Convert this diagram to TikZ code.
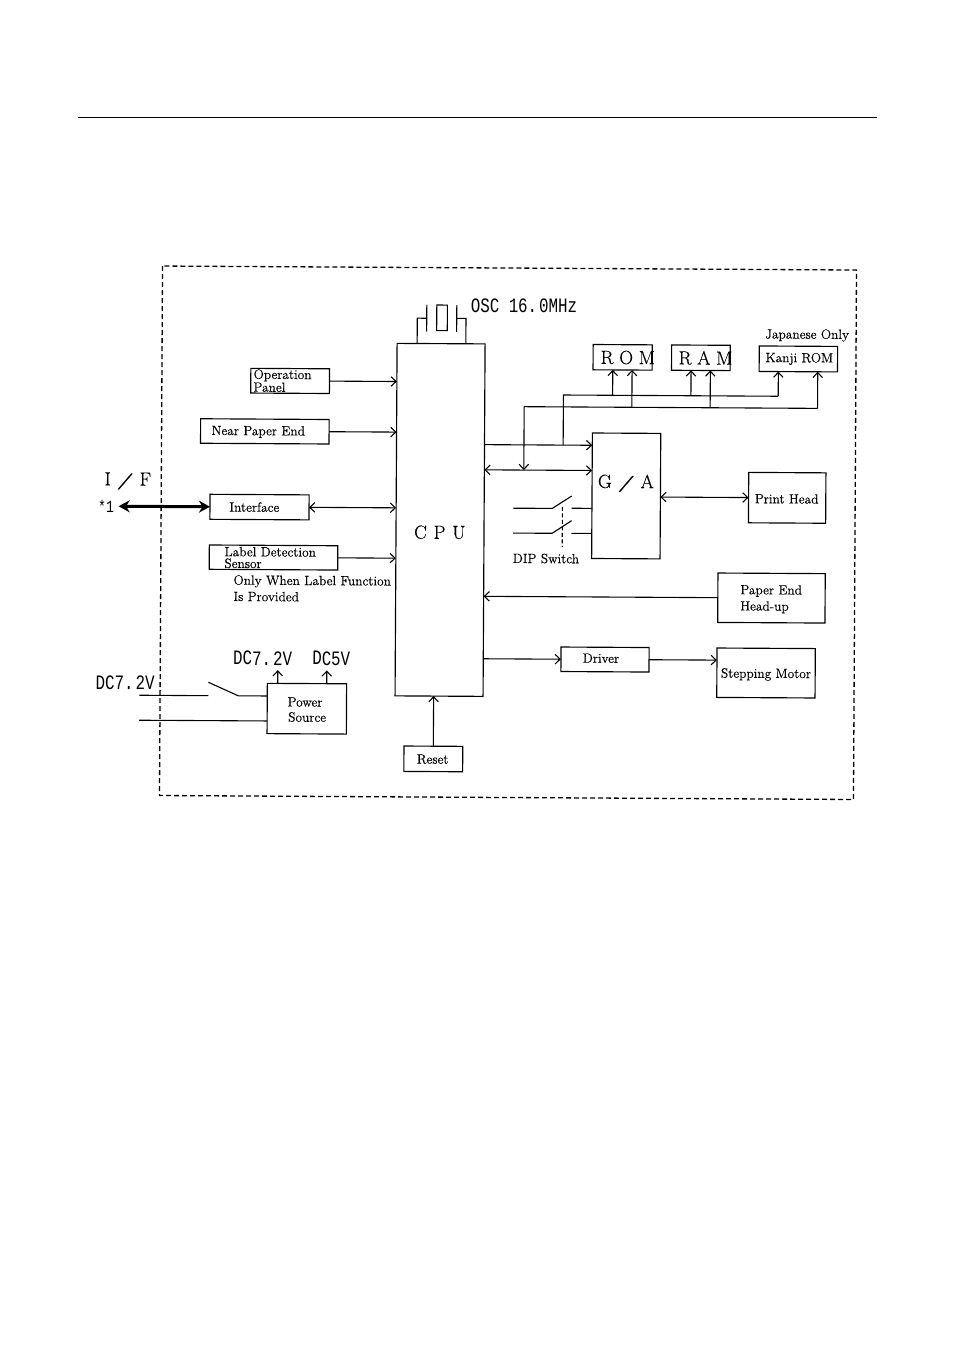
\documentclass[tikz,border=0pt]{standalone}
\usepackage{fontspec}
\usepackage{graphicx}
\usetikzlibrary{arrows.meta}
\newfontfamily\condmono[FakeStretch=0.77]{Liberation Mono}
\newfontfamily\darkroman[FakeBold=0.3]{Latin Modern Roman}
\newcommand{\wslash}{\scalebox{2.1}[0.85]{/}}
\newcommand{\bx}[5]{\node[boxnode,minimum width={(#4-#2)*1pt},minimum height={(#5-#3)*1pt}] (#1) at ({(#2+#4)/2},{(#3+#5)/2}) {};}
\tikzset{
  boxnode/.style={draw,line width=1.15pt,inner sep=0pt,outer sep=0pt},
  txt/.style={inner sep=0pt,font=\darkroman\fontsize{13.4}{11.7}\selectfont,align=center},
  txtl/.style={txt,align=left,anchor=west},
  big/.style={inner sep=0pt,font=\darkroman\fontsize{19}{20}\selectfont},
  gothic/.style={inner sep=0pt,font=\condmono\fontsize{20.5}{20}\selectfont},
  wire/.style={line width=1.1pt},
  arr/.style={wire,-{Straight Barb[length=5pt,width=9.5pt,line width=1.1pt]}},
  dbl/.style={wire,{Straight Barb[length=5pt,width=9.5pt,line width=1.1pt]}-{Straight Barb[length=5pt,width=9.5pt,line width=1.1pt]}},
  frame/.style={line width=1.3pt,dash pattern=on 5pt off 3pt}
}
\begin{document}
\begin{tikzpicture}[x=1pt,y=-1pt]
\useasboundingbox (0,0) rectangle (954,1351);
\draw[line width=1.2pt] (78,117.5) -- (877,117.5);
\begin{scope}[rotate around={-0.33:(505,532)},transform shape]
\draw[frame] (161,268) rectangle (855,797.5);
% boxes
\bx{cpu}{396}{344}{484}{696.5}
\bx{rom}{592.1}{344}{651.2}{369.3}
\bx{ram}{670.6}{344}{729.2}{369.3}
\bx{kanji}{758.2}{344.5}{836.6}{370}
\bx{ga}{591.8}{432.5}{660.2}{558}
\bx{ph}{748.4}{471}{825.6}{521.4}
\bx{pe}{718.2}{571.8}{825.5}{621.2}
\bx{sm}{717.7}{646.8}{816}{696.2}
\bx{dr}{561.7}{646.7}{649.8}{671.2}
\bx{rs}{405.2}{746.6}{464}{772}
\bx{pw}{268.2}{684.7}{347.5}{735}
\bx{op}{249.9}{369.8}{328.6}{394.5}
\bx{ne}{200}{420.5}{328.5}{445}
\bx{itf}{209.8}{496}{308.9}{521}
\bx{ld}{209.4}{546.7}{337.9}{571}
% labels
\node[gothic] (tosc) at (522.7,305.6) {OSC 16.\kern2pt 0MHz};
\node[big] (trom) at (626.8,356.8) {R O M};
\node[big] (tram) at (704.5,356.8) {R A M};
\node[txt] (tkanji) at (798.3,357.2) {Kanji ROM};
\node[txt] (tjp) at (806,333.6) {Japanese Only};
\node[big] (tcpu) at (439.8,532.7) {C\kern1pt\ P\kern1pt\ U};
\node[big] (tga) at (625.6,482.6) {G\;\wslash\;A};
\node[txt] (tph) at (786.5,497.2) {Print Head};
\node[txt] (tdip) at (546.1,558.3) {DIP Switch};
\node[txtl] (tpe) at (740.5,597.6) {Paper End\\[3.3pt]Head-up};
\node[txt] (tdr) at (601.7,657.7) {Driver};
\node[txt] (tsm) at (766.8,673) {Stepping Motor};
\node[txt] (trs) at (434,759.6) {Reset};
\node[txt] (tpw) at (306,710.8) {Power\\[3.5pt]\,\,Source};
\node[gothic] (tdc1) at (263.4,659.7) {DC7.\kern2pt 2V};
\node[gothic] (tdc2) at (332,659.3) {DC5V};
\node[gothic] (tdc3) at (126,684.9) {DC7.\kern2pt 2V};
\node[txtl] (top) at (252.5,382) {Operation\\Panel};
\node[txt] (tne) at (257.7,433.3) {Near Paper End};
\node[txt] (titf) at (254.2,508.5) {Interface};
\node[txtl] (tld) at (224.4,559.1) {Label Detection\\Sensor};
\node[txtl] (tonly) at (233.6,589.7) {Only When Label Function\\[3.3pt]Is Provided};
\node[big] (tif) at (127.5,483.2) {I\;\wslash\;F};
\node[gothic,font=\condmono\fontsize{17}{18}\selectfont] (tstar) at (105.9,509) {*1};
% inputs to the CPU
\draw[arr] (op.east) -- (op.east -| cpu.west);
\draw[arr] (ne.east) -- (ne.east -| cpu.west);
\draw[dbl] (itf.east) -- (itf.east -| cpu.west);
\draw[arr] (ld.east) -- (ld.east -| cpu.west);
\draw[arr] (pe.west) -- (pe.west -| cpu.east);
\draw[arr] (dr.west -| cpu.east) -- (dr.west);
\draw[arr] (dr.east) -- (dr.east -| sm.west);
\draw[arr] (rs.north) -- (rs.north |- cpu.south);
% I/F
\coordinate (ifl) at (118.5,508.5);
\draw[line width=3pt,{Stealth[length=11pt,width=12pt]}-{Stealth[length=11pt,width=12pt]}] (ifl) -- (ifl -| itf.west);
% buses
\coordinate (busa) at (540,444.8);
\coordinate (busb) at (540,470);
\draw[arr] (busa -| cpu.east) -- (busa -| ga.west);
\draw[dbl] (busb -| cpu.east) -- (busb -| ga.west);
\coordinate (la) at (562.7,394.7);
\coordinate (lb) at (523.5,406.6);
\coordinate (ka) at (777.5,394.7);
\coordinate (kb) at (816.9,406.6);
\draw[wire] (la |- busa) -- (la) -- (ka);
\draw[arr] (ka) -- (ka |- kanji.south);
\draw[wire] (lb) -- (kb);
\draw[arr] (lb) -- (lb |- busb);
\draw[arr] (kb) -- (kb |- kanji.south);
\coordinate (r1) at (611.9,394.7);
\coordinate (r2) at (631.2,406.6);
\coordinate (r3) at (690.2,394.7);
\coordinate (r4) at (709.5,406.6);
\draw[arr] (r1) -- (r1 |- rom.south);
\draw[arr] (r2) -- (r2 |- rom.south);
\draw[arr] (r3) -- (r3 |- ram.south);
\draw[arr] (r4) -- (r4 |- ram.south);
\draw[dbl] (ph.west -| ga.east) -- (ph.west);
% crystal
\coordinate (xl) at (416.1,318.7);
\coordinate (xr) at (464.8,318.7);
\coordinate (pl) at (425.5,318.7);
\coordinate (pr) at (455.5,318.7);
\draw[wire] (xl |- cpu.north) -- (xl) -- (pl);
\draw[wire] (xr |- cpu.north) -- (xr) -- (pr);
\draw[wire] (425.5,305.4) -- (425.5,332.1);
\draw[wire] (455.5,305.4) -- (455.5,332.1);
\draw[wire] (435.5,305.4) rectangle (446.1,331);
% DIP switches
\coordinate (d1) at (513.2,508.2);
\coordinate (d2) at (513.2,533.1);
\coordinate (s1) at (571.5,507.9);
\coordinate (s2) at (571.5,533);
\draw[wire] (d1) -- (552.2,508.1) -- (571.5,495.6);
\draw[wire] (d2) -- (552.2,533) -- (571.5,520.3);
\draw[wire] (s1) -- (s1 -| ga.west);
\draw[wire] (s2) -- (s2 -| ga.west);
\draw[wire,dash pattern=on 4pt off 2.5pt] (562.3,506.6) -- (562.3,546.8);
% power
\coordinate (in1) at (140.3,697.4);
\coordinate (in2) at (140.3,722.4);
\coordinate (o1) at (278.6,671.5);
\coordinate (o2) at (327.6,671.5);
\draw[wire] (in1) -- (209.3,697.4);
\draw[wire] (209.3,684) -- (239.3,697.4) -- (in1 -| pw.west);
\draw[wire] (in2) -- (in2 -| pw.west);
\draw[arr] (o1 |- pw.north) -- (o1);
\draw[arr] (o2 |- pw.north) -- (o2);
\end{scope}
\end{tikzpicture}
\end{document}
